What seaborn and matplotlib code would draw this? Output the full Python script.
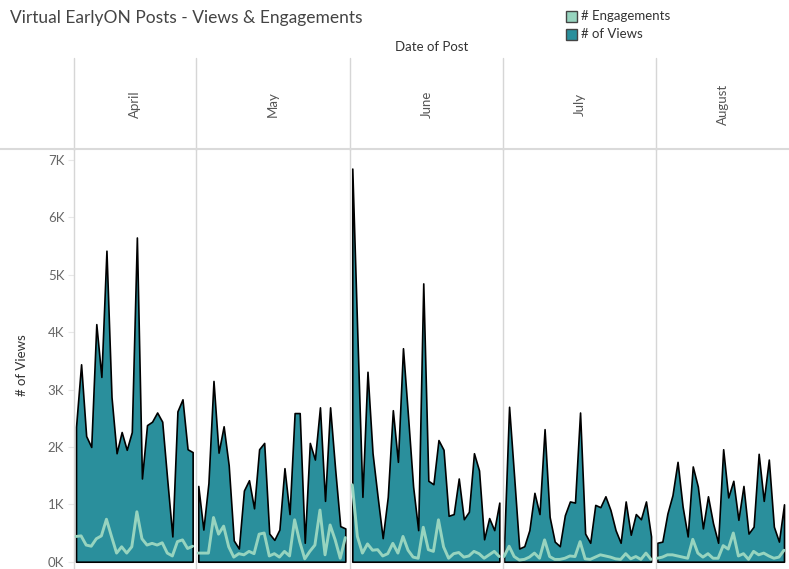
import matplotlib
matplotlib.use("Agg")
import matplotlib.pyplot as plt
import matplotlib.ticker as mticker
from matplotlib.lines import Line2D
from matplotlib.patches import Rectangle
import seaborn as sns
import pandas as pd

sns.set_theme(style="white")
plt.rcParams["font.family"] = ["Lato", "DejaVu Sans"]

MONTHS = ["April", "May", "June", "July", "August"]

views_apr = [2350, 3440, 2190, 2000, 4140, 3220, 5420, 2870, 1890, 2260, 1950, 2260,
             5650, 1450, 2380, 2440, 2600, 2440, 1420, 440, 2620, 2830, 1960, 1910]
views_may = [1320, 560, 1370, 3150, 1900, 2360, 1680, 370, 230, 1240, 1420, 930,
             1960, 2070, 490, 380, 560, 1630, 830, 2590, 2590, 330, 2070, 1780,
             2690, 1060, 2690, 1610, 620, 580]
views_jun = [6850, 3950, 1130, 3310, 1890, 1130, 410, 1130, 2640, 1740, 3720, 2530,
             1310, 550, 4850, 1410, 1350, 2120, 1950, 800, 830, 1450, 740, 870,
             1890, 1590, 390, 760, 550, 1030]
views_jul = [260, 2700, 1480, 230, 270, 550, 1200, 830, 2310, 780, 350, 270,
             810, 1050, 1030, 2600, 490, 330, 990, 950, 1140, 900, 550, 330,
             1050, 470, 830, 740, 1050, 440]
views_aug = [330, 350, 840, 1160, 1740, 960, 440, 1660, 1310, 580, 1140, 670,
             330, 1960, 1120, 1410, 730, 1320, 490, 610, 1880, 1060, 1780, 610,
             350, 1000]

eng_apr = [440, 450, 290, 270, 400, 450, 740, 440, 150, 260, 150, 260,
           870, 400, 290, 320, 290, 330, 150, 100, 350, 380, 230, 270]
eng_may = [150, 150, 150, 770, 480, 620, 260, 80, 140, 120, 180, 140,
           480, 500, 100, 140, 80, 180, 100, 730, 350, 50, 180, 290,
           900, 120, 640, 380, 60, 420]
eng_jun = [1340, 440, 150, 310, 200, 210, 100, 140, 320, 150, 440, 200,
           80, 60, 600, 210, 180, 730, 260, 60, 140, 160, 80, 100,
           180, 140, 60, 120, 180, 90]
eng_jul = [90, 270, 90, 30, 40, 80, 150, 60, 380, 90, 40, 40,
           60, 100, 90, 350, 50, 40, 80, 120, 100, 80, 50, 40,
           140, 50, 90, 40, 150, 40]
eng_aug = [60, 80, 120, 120, 100, 80, 60, 390, 150, 80, 140, 60,
           60, 280, 220, 500, 100, 140, 40, 180, 120, 150, 100, 60,
           80, 200]

views = [views_apr, views_may, views_jun, views_jul, views_aug]
engagements = [eng_apr, eng_may, eng_jun, eng_jul, eng_aug]

rows = []
for m, v_list, e_list in zip(MONTHS, views, engagements):
    for i, (v, e) in enumerate(zip(v_list, e_list)):
        rows.append({"month": m, "day": i, "views": v, "engagements": e})
df = pd.DataFrame(rows)

# layout in pixels (figure is 789 x 569)
W, H = 789, 569
PANE_EDGES = [74, 196, 350, 503, 656, 789]
LEFT_PAD = [0.4, 0.45, 0.45, 0.2, 0.25]
PX_PER_DAY = 5.07
PLOT_TOP = 150
PX_PER_K = 57.4
ZERO_Y = 561.7

VIEW_COLOR = "#2A8F9C"
ENG_COLOR = "#97D4BF"
GRID = "#D6D6D6"
TEXT = "#555555"

fig = plt.figure(figsize=(W / 100, H / 100), dpi=100)

ymin = -(H - ZERO_Y) / PX_PER_K * 1000
ymax = 7000 + (160 - PLOT_TOP) / PX_PER_K * 1000

for k, month in enumerate(MONTHS):
    l, r = PANE_EDGES[k], PANE_EDGES[k + 1]
    ax = fig.add_axes([l / W, 0, (r - l) / W, (H - PLOT_TOP) / H])
    sub = df[df["month"] == month]
    ax.fill_between(sub["day"], sub["views"], 0, facecolor=VIEW_COLOR,
                    edgecolor="black", linewidth=1.2, zorder=2)
    sns.lineplot(data=sub, x="day", y="engagements", color=ENG_COLOR,
                 linewidth=2.1, ax=ax, zorder=3)
    left = -LEFT_PAD[k]
    ax.set_xlim(left, left + (r - l) / PX_PER_DAY)
    ax.set_ylim(ymin, ymax)
    ax.set_xlabel("")
    ax.set_ylabel("")
    ax.set_xticks([])
    for side in ["top", "right", "bottom"]:
        ax.spines[side].set_visible(False)
    ax.spines["left"].set_color(GRID)
    ax.spines["left"].set_linewidth(1)
    ax.patch.set_alpha(0)
    if k == 0:
        ax.set_yticks(range(0, 7001, 1000))
        ax.yaxis.set_major_formatter(mticker.FuncFormatter(lambda v, _: f"{int(v / 1000)}K"))
        ax.tick_params(axis="y", left=True, length=4, width=0.8, color="#E8E8E8",
                       labelsize=9.5, labelcolor="#666666", pad=3)
    else:
        ax.set_yticks([])
    # month header
    fig.text((l + r) / 2 / W, 1 - 104 / H, month, rotation=90, ha="center",
             va="center", fontsize=9.5, color=TEXT)
    # header separator
    fig.add_artist(Line2D([l / W, l / W], [1 - 58 / H, 1 - PLOT_TOP / H],
                          color=GRID, linewidth=1))

fig.add_artist(Line2D([0, 1], [1 - 149 / H, 1 - 149 / H], color="#DADADA", linewidth=1.5))

fig.text(10 / W, 1 - 18 / H, "Virtual EarlyON Posts - Views & Engagements",
         fontsize=12.5, color="#444444", ha="left", va="center")
fig.text(432 / W, 1 - 47 / H, "Date of Post", fontsize=9.5, color="#333333",
         ha="center", va="center")
fig.text(22 / W, 1 - 365 / H, "# of Views", rotation=90, fontsize=9.5,
         color="#333333", ha="center", va="center")

# legend
for j, (lab, col) in enumerate([("# Engagements", ENG_COLOR), ("# of Views", VIEW_COLOR)]):
    yc = 16 + 18 * j
    fig.add_artist(Rectangle((566 / W, 1 - (yc + 5.5) / H), 11 / W, 11 / H,
                             facecolor=col, edgecolor="#444444", linewidth=1,
                             transform=fig.transFigure))
    fig.text(581 / W, 1 - yc / H, lab, fontsize=9.5, color="#333333",
             ha="left", va="center")

fig.savefig("out.png", dpi=100)
